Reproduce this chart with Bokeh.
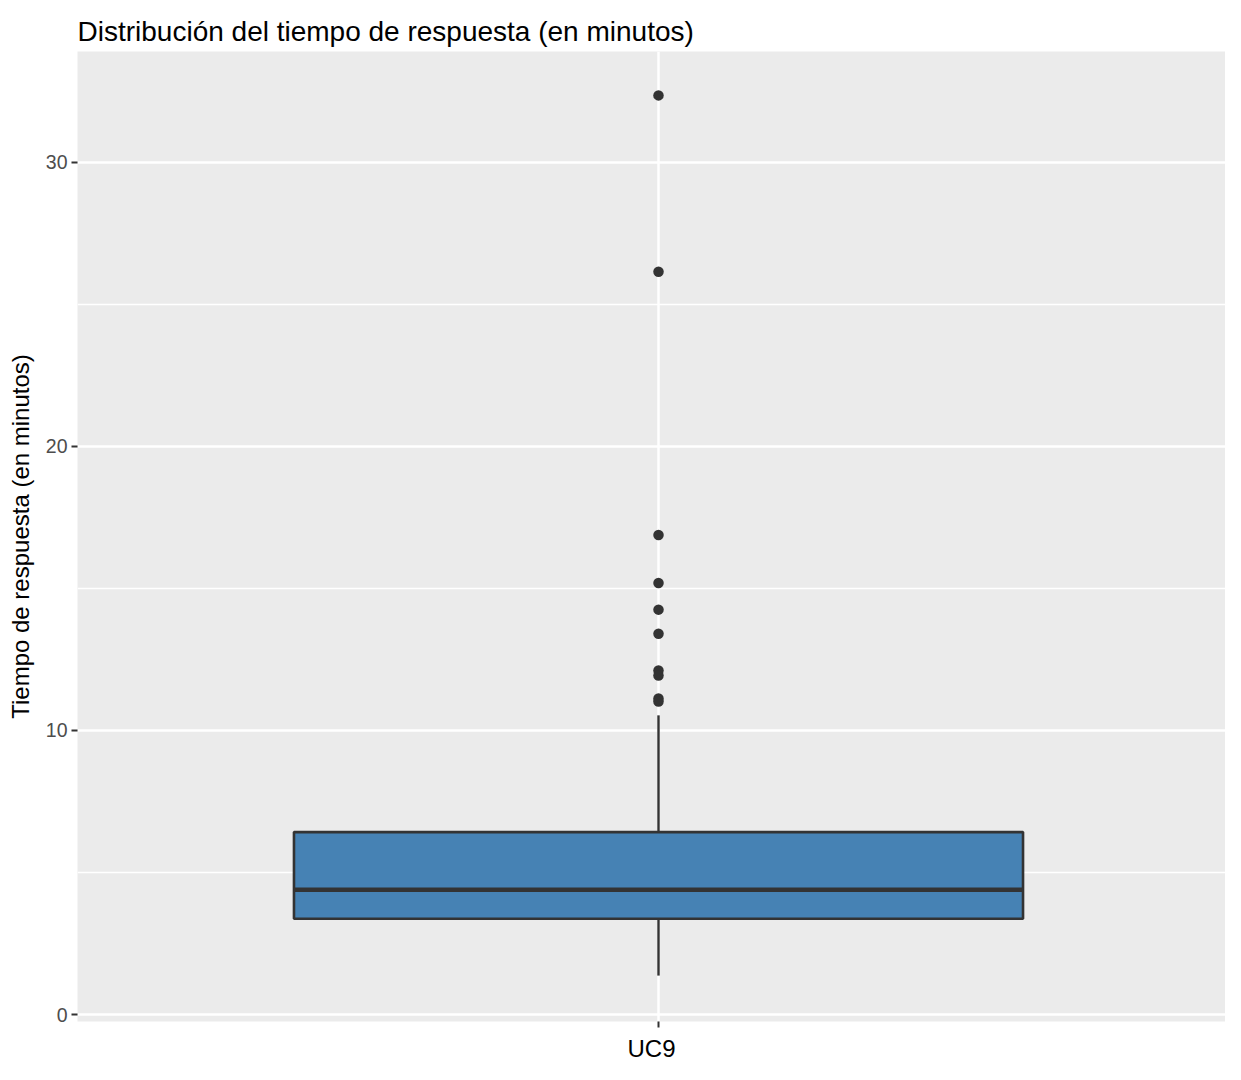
from bokeh.plotting import figure
from bokeh.models import FixedTicker, Range1d
from bokeh.embed import file_html
from bokeh.resources import INLINE

# ---- data ----
categories = ["UC9"]
q1 = [3.37]
median = [4.39]
q3 = [6.42]
whisker_low = [1.37]
whisker_high = [10.53]
outliers = [32.35, 26.14, 16.88, 15.19, 14.25, 13.40, 12.11, 11.93, 11.12, 11.02]
y_ticks = [0, 10, 20, 30]
y_minor = [5, 15, 25]

x_pos = [1]
box_w = 0.75
FONT = "Liberation Sans"

p = figure(width=1225, height=1064, output_backend="svg", toolbar_location=None,
           x_range=Range1d(0.4023, 1.5833), y_range=Range1d(-0.2456, 33.895),
           min_border_left=77, min_border_right=0, min_border_top=51, min_border_bottom=40,
           background_fill_color="#EBEBEB", border_fill_color="white",
           outline_line_color=None,
           title="Distribución del tiempo de respuesta (en minutos)")

p.title.text_font = FONT
p.title.text_font_size = "28px"
p.title.text_font_style = "normal"
p.title.text_color = "black"
p.title.align = "left"

# grids
p.xgrid.ticker = FixedTicker(ticks=x_pos)
p.xgrid.grid_line_color = "white"
p.xgrid.grid_line_width = 2.5
p.ygrid.ticker = FixedTicker(ticks=y_ticks, minor_ticks=y_minor)
p.ygrid.grid_line_color = "white"
p.ygrid.grid_line_width = 2.5
p.ygrid.minor_grid_line_color = "white"
p.ygrid.minor_grid_line_width = 1.3

# axes
for ax in (p.xaxis[0], p.yaxis[0]):
    ax.axis_line_color = None
    ax.major_tick_line_color = "#333333"
    ax.major_tick_line_width = 2
    ax.major_tick_out = 6
    ax.major_tick_in = 0
    ax.minor_tick_out = 0
    ax.minor_tick_in = 0
    ax.major_label_text_font = FONT
    ax.major_label_text_font_size = "19.5px"
    ax.major_label_text_color = "#4D4D4D"
    ax.axis_label_text_font = FONT
    ax.axis_label_text_font_size = "24px"
    ax.axis_label_text_font_style = "normal"
    ax.axis_label_text_color = "black"

p.yaxis.ticker = FixedTicker(ticks=y_ticks)
p.yaxis.major_label_standoff = 4
p.yaxis.axis_label = "Tiempo de respuesta (en minutos)"
p.yaxis.axis_label_standoff = 9

p.xaxis.ticker = FixedTicker(ticks=x_pos)
p.xaxis.major_label_overrides = {1: ""}
p.xaxis.axis_label = categories[0]
p.xaxis.axis_label_standoff = 7

# outliers
p.scatter(x=x_pos * len(outliers), y=outliers, size=10.5, color="#333333", line_width=0)

# whiskers
p.segment(x0=x_pos, y0=q3, x1=x_pos, y1=whisker_high, line_color="#333333", line_width=2.4)
p.segment(x0=x_pos, y0=whisker_low, x1=x_pos, y1=q1, line_color="#333333", line_width=2.4)

# box
p.vbar(x=x_pos, width=box_w, bottom=q1, top=q3, fill_color="#4682B4",
       line_color="#333333", line_width=2.6)

# median
p.segment(x0=[x - box_w / 2 for x in x_pos], y0=median,
          x1=[x + box_w / 2 for x in x_pos], y1=median,
          line_color="#333333", line_width=4.6)

open("out.html", "w").write(file_html(p, INLINE))
